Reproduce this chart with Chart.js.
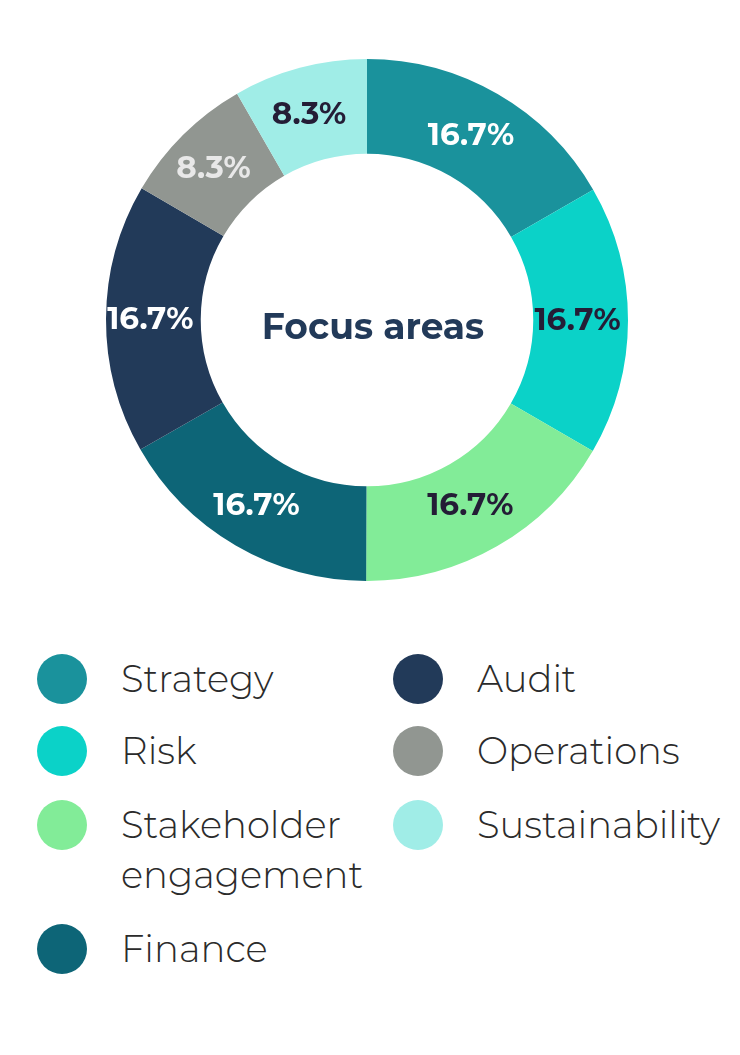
<!DOCTYPE html>
<html lang="en">
<head>
  <meta charset="UTF-8" />
  <title>Focus areas</title>
  <script src="https://cdn.jsdelivr.net/npm/chart.js"></script>
  <style>
    body {
      margin: 0;
      background: #fff;
      width: 740px;
      height: 1055px;
      position: relative;
      font-family: Montserrat, "Open Sans", Lato, sans-serif;
    }
    #wrap {
      position: absolute;
      left: 0; top: 59px;
      width: 734px; height: 522px;
    }
    .item {
      position: absolute;
      font-size: 37px;
      font-weight: 300;
      color: #2b2b2b;
      line-height: 50px;
    }
    .dot {
      position: absolute;
      width: 50px; height: 50px;
      border-radius: 50%;
    }
  </style>
</head>
<body>
  <div id="wrap"><canvas id="focusChart"></canvas></div>
  <div id="legend"></div>

  <script>
    // data
    const labels = ['Strategy', 'Risk', 'Stakeholder engagement', 'Finance', 'Audit', 'Operations', 'Sustainability'];
    const values = [16.7, 16.7, 16.7, 16.7, 16.7, 8.3, 8.3];
    const colors = ['#1a929c', '#0bd2c8', '#82ec98', '#0d6577', '#223a59', '#919691', '#a0ede7'];
    const labelColors = ['#ffffff', '#241d36', '#241d36', '#ffffff', '#ffffff', '#e8e8e8', '#241d36'];

    // percent labels + centre title
    const arcLabels = {
      id: 'arcLabels',
      afterDatasetsDraw(chart) {
        const c = chart.ctx;
        const meta = chart.getDatasetMeta(0);
        c.save();
        c.textAlign = 'center';
        c.textBaseline = 'middle';
        c.font = 'bold 31px Montserrat, "Open Sans", Lato, sans-serif';
        meta.data.forEach((arc, i) => {
          const p = arc.tooltipPosition();
          c.fillStyle = labelColors[i];
          c.fillText(values[i].toFixed(1) + '%', p.x - 3, p.y + 1);
        });
        const a = meta.data[0];
        c.fillStyle = '#223a59';
        c.font = 'bold 36px Montserrat, "Open Sans", Lato, sans-serif';
        c.fillText('Focus areas', a.x + 6, a.y + 8);
        c.restore();
      }
    };

    new Chart(document.getElementById('focusChart'), {
      type: 'doughnut',
      data: {
        labels: labels,
        datasets: [{
          data: values,
          backgroundColor: colors,
          borderWidth: 0
        }]
      },
      options: {
        responsive: true,
        maintainAspectRatio: false,
        animation: false,
        cutout: '63.7%',
        plugins: { legend: { display: false }, tooltip: { enabled: false } }
      },
      plugins: [arcLabels]
    });

    // legend in two columns
    const legendPos = [
      [62, 679], [62, 751], [62, 825], [62, 949],
      [418, 679], [418, 751], [418, 825]
    ];
    const legend = document.getElementById('legend');
    labels.forEach((name, i) => {
      const [cx, cy] = legendPos[i];
      const dot = document.createElement('div');
      dot.className = 'dot';
      dot.style.left = (cx - 25) + 'px';
      dot.style.top = (cy - 25) + 'px';
      dot.style.background = colors[i];
      legend.appendChild(dot);
      const txt = document.createElement('div');
      txt.className = 'item';
      txt.style.left = (cx + 59) + 'px';
      txt.style.top = (cy - 25) + 'px';
      txt.innerHTML = name === 'Stakeholder engagement' ? 'Stakeholder<br>engagement' : name;
      legend.appendChild(txt);
    });
  </script>
</body>
</html>
